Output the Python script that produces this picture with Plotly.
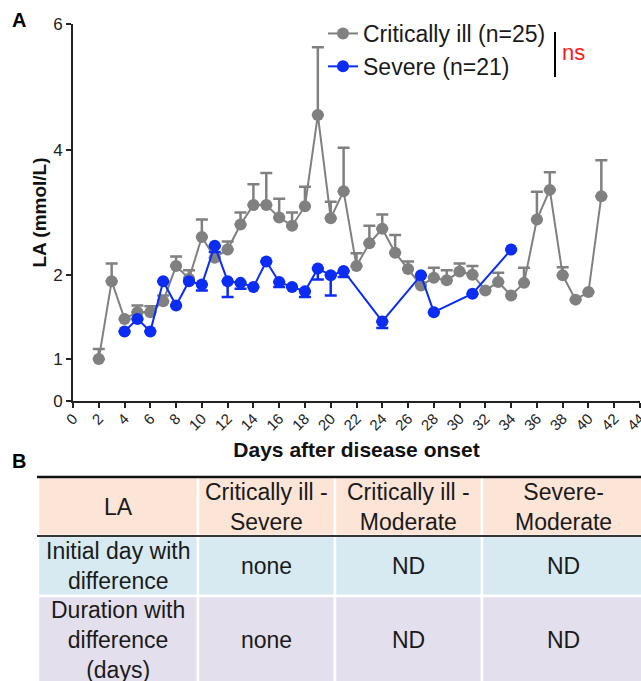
import numpy as np
import plotly.graph_objects as go

# ---------------- data ----------------
crit_days = [2, 3, 4, 5, 6, 7, 8, 9, 10, 11, 12, 13, 14, 15, 16, 17, 18, 19, 20, 21,
             22, 23, 24, 25, 26, 27, 28, 29, 30, 31, 32, 33, 34, 35, 36, 37, 38, 39, 40, 41]
crit_vals = [1.00, 1.93, 1.48, 1.56, 1.56, 1.69, 2.15, 1.96, 2.61, 2.28, 2.41, 2.81, 3.12, 3.12,
             2.92, 2.79, 3.10, 4.55, 2.91, 3.34, 2.15, 2.51, 2.74, 2.36, 2.10, 1.88, 1.97, 1.94,
             2.06, 2.01, 1.82, 1.92, 1.76, 1.91, 2.89, 3.36, 2.00, 1.71, 1.80, 3.26]
crit_err = [0.12, 0.26, 0.0, 0.08, 0.07, 0.07, 0.15, 0.12, 0.28, 0.17, 0.13, 0.19, 0.33, 0.51,
            0.30, 0.21, 0.31, 1.08, 0.26, 0.69, 0.20, 0.28, 0.23, 0.28, 0.12, 0.0, 0.15, 0.14,
            0.13, 0.14, 0.0, 0.12, 0.0, 0.21, 0.44, 0.28, 0.13, 0.0, 0.0, 0.57]

sev_days = [4, 5, 6, 7, 8, 9, 10, 11, 12, 13, 14, 15, 16, 17, 18, 19, 20, 21, 24, 27, 28, 31, 34]
sev_vals = [1.33, 1.48, 1.33, 1.93, 1.64, 1.93, 1.89, 2.47, 1.93, 1.91, 1.86, 2.22, 1.92, 1.86,
            1.81, 2.11, 2.00, 2.07, 1.45, 2.00, 1.56, 1.78, 2.41]
sev_err = [0.0, 0.0, 0.0, 0.0, 0.0, 0.0, 0.07, 0.10, 0.19, 0.07, 0.0, 0.0, 0.06, 0.0, 0.07,
           0.16, 0.24, 0.09, 0.08, 0.0, 0.0, 0.0, 0.0]

y_ticks = [0, 1, 2, 4, 6]
x_ticks = list(range(0, 45, 2))

table_header = ["LA", "Critically ill -<br>Severe", "Critically ill -<br>Moderate", "Severe-<br>Moderate"]
table_rows = [
    ["Initial day with<br>difference", "none", "ND", "ND"],
    ["Duration with<br>difference<br>(days)", "none", "ND", "ND"],
]

# segmented y axis (0-1, 1-2, 2-6 segments)
seg_val = [0, 1, 2, 4, 6]
seg_pos = [0, 1, 3, 6, 9]


def ty(v):
    return np.interp(np.asarray(v, dtype=float), seg_val, seg_pos)


FONT = "Liberation Sans, Arial, sans-serif"
GRAY = "#808080"
BLUE = "#0a2cf5"

fig = go.Figure()

cv = np.array(crit_vals)
ce = np.array(crit_err)
fig.add_trace(go.Scatter(
    x=crit_days, y=ty(cv), mode="lines+markers", name="Critically ill (n=25)",
    line=dict(color=GRAY, width=2), marker=dict(color=GRAY, size=12),
    error_y=dict(type="data", symmetric=False, array=ty(cv + ce) - ty(cv),
                 arrayminus=np.zeros(len(cv)), color=GRAY, thickness=2.5, width=6),
))
sv = np.array(sev_vals)
se = np.array(sev_err)
fig.add_trace(go.Scatter(
    x=sev_days, y=ty(sv), mode="lines+markers", name="Severe (n=21)",
    line=dict(color=BLUE, width=2), marker=dict(color=BLUE, size=12),
    error_y=dict(type="data", symmetric=False, array=np.zeros(len(sv)),
                 arrayminus=ty(sv) - ty(sv - se), color=BLUE, thickness=2.5, width=6),
))

W, H = 641, 681
L, R, T, B = 73, 1, 24, 280
pw, ph = W - L - R, H - T - B


def px_x(px):
    return (px - L) / pw


def px_y(py):
    return (H - B - py) / ph


shapes = []
annotations = []

# table
col_edges = [38, 198, 335, 482, 645]
row_edges = [477, 536, 596, 690]
row_fills = ["#fce4d6", "#d7eaf2", "#e4dfec"]
all_rows = [table_header] + table_rows
for r in range(3):
    for c in range(4):
        shapes.append(dict(type="rect", xref="paper", yref="paper",
                           x0=px_x(col_edges[c]), x1=px_x(col_edges[c + 1]),
                           y0=px_y(row_edges[r]), y1=px_y(row_edges[r + 1]),
                           fillcolor=row_fills[r], line=dict(color="white", width=2.5),
                           layer="below"))
        annotations.append(dict(xref="paper", yref="paper",
                                x=px_x((col_edges[c] + col_edges[c + 1]) / 2),
                                y=px_y((row_edges[r] + row_edges[r + 1]) / 2 - (3 if r == 2 else 0)),
                                text=all_rows[r][c], showarrow=False,
                                xanchor="center", yanchor="middle", align="center",
                                font=dict(family=FONT, size=23, color="#1a1a1a")))
shapes.append(dict(type="line", xref="paper", yref="paper", x0=px_x(37), x1=px_x(645),
                   y0=px_y(477), y1=px_y(477), line=dict(color="#111", width=2.5)))
shapes.append(dict(type="line", xref="paper", yref="paper", x0=px_x(37), x1=px_x(645),
                   y0=px_y(536), y1=px_y(536), line=dict(color="#333", width=2)))

# significance bracket
shapes.append(dict(type="line", xref="paper", yref="paper", x0=px_x(555), x1=px_x(555),
                   y0=px_y(32), y1=px_y(77), line=dict(color="black", width=2)))
annotations.append(dict(xref="paper", yref="paper", x=px_x(560), y=px_y(52), text="ns",
                        showarrow=False, xanchor="left", yanchor="middle",
                        font=dict(family=FONT, size=22, color="#ff1a1a")))

# panel labels
annotations.append(dict(xref="paper", yref="paper", x=px_x(10), y=px_y(20), text="<b>A</b>",
                        showarrow=False, xanchor="left", yanchor="middle",
                        font=dict(family=FONT, size=20, color="black")))
annotations.append(dict(xref="paper", yref="paper", x=px_x(10), y=px_y(461), text="<b>B</b>",
                        showarrow=False, xanchor="left", yanchor="middle",
                        font=dict(family=FONT, size=20, color="black")))

fig.update_layout(
    width=W, height=H, margin=dict(l=L, r=R, t=T, b=B),
    paper_bgcolor="white", plot_bgcolor="white",
    font=dict(family=FONT, color="#222"),
    shapes=shapes, annotations=annotations,
    showlegend=True,
    legend=dict(x=px_x(323), y=px_y(12), xanchor="left", yanchor="top",
                bgcolor="rgba(0,0,0,0)", font=dict(family=FONT, size=23, color="#1a1a1a"),
                itemwidth=30, tracegroupgap=0),
    xaxis=dict(range=[0, 44], tickmode="array", tickvals=x_ticks, ticktext=[str(t) for t in x_ticks],
               tickangle=-45, ticks="outside", ticklen=5, tickwidth=1.5, tickcolor="#222",
               showline=True, linecolor="#222", linewidth=2, showgrid=False, zeroline=False,
               tickfont=dict(family=FONT, size=15, color="#222"),
               ticklabeloverflow="allow", ticklabelstandoff=-4,
               title=dict(text="<b>Days after disease onset</b>", standoff=10,
                          font=dict(family=FONT, size=21, color="#111")),
               automargin=False),
    yaxis=dict(range=[0, 9], tickmode="array", tickvals=list(ty(y_ticks)),
               ticktext=[str(t) for t in y_ticks],
               ticks="outside", ticklen=5, tickwidth=1.5, tickcolor="#222",
               showline=True, linecolor="#222", linewidth=2, showgrid=False, zeroline=False,
               tickfont=dict(family=FONT, size=17, color="#222"),
               title=dict(text="<b>LA (mmol/L)</b>", standoff=1,
                          font=dict(family=FONT, size=19, color="#111")),
               automargin=False),
)

fig.write_html("out.html", config={"displayModeBar": False},
               post_script="document.body.style.margin='0';document.body.style.overflow='hidden';")
